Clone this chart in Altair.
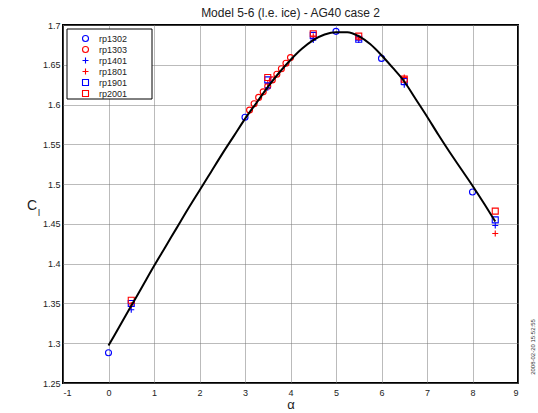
import altair as alt
import pandas as pd

# ---- data ----
series_names = ["rp1302", "rp1303", "rp1401", "rp1801", "rp1901", "rp2001"]
series_colors = ["#0000ff", "#ff0000", "#0000ff", "#ff0000", "#0000ff", "#ff0000"]
series_shapes = ["circle", "circle", "M-1,0H1M0,-1V1", "M-1,0H1M0,-1V1", "square", "square"]

rp1302_a = [0.0, 3.0, 5.0, 6.0, 8.0]
rp1302_c = [1.288, 1.584, 1.692, 1.658, 1.490]

rp1303_a = [3.1, 3.2, 3.3, 3.4, 3.5, 3.6, 3.7, 3.8, 3.9, 4.0]
rp1303_c = [1.593, 1.601, 1.609, 1.616, 1.623, 1.631, 1.638, 1.645, 1.652, 1.659]

rp1401_a = [0.5, 3.5, 4.5, 5.5, 6.5, 8.5]
rp1401_c = [1.342, 1.621, 1.681, 1.681, 1.625, 1.448]

rp1801_a = [0.5, 3.5, 4.5, 5.5, 6.5, 8.5]
rp1801_c = [1.348, 1.626, 1.686, 1.684, 1.634, 1.438]

rp1901_a = [0.5, 3.5, 4.5, 5.5, 6.5, 8.5]
rp1901_c = [1.350, 1.631, 1.687, 1.682, 1.629, 1.455]

rp2001_a = [0.5, 3.5, 4.5, 5.5, 6.5, 8.5]
rp2001_c = [1.354, 1.634, 1.689, 1.686, 1.632, 1.466]

fit_a = [0.0, 0.25, 0.5, 0.75, 1.0, 1.25, 1.5, 1.75, 2.0, 2.25, 2.5, 2.75, 3.0,
         3.25, 3.5, 3.75, 4.0, 4.25, 4.5, 4.75, 5.0, 5.25, 5.5, 5.75, 6.0,
         6.25, 6.5, 6.75, 7.0, 7.25, 7.5, 7.75, 8.0, 8.25, 8.5]
fit_c = [1.297, 1.322, 1.347, 1.372, 1.397, 1.421, 1.445, 1.469, 1.492, 1.515,
         1.538, 1.560, 1.582, 1.602, 1.622, 1.640, 1.656, 1.670, 1.681, 1.688,
         1.691, 1.691, 1.686, 1.676, 1.662, 1.646, 1.629, 1.607, 1.585, 1.562,
         1.540, 1.519, 1.498, 1.476, 1.453]

x_ticks = [-1, 0, 1, 2, 3, 4, 5, 6, 7, 8, 9]
y_ticks = [1.25, 1.3, 1.35, 1.4, 1.45, 1.5, 1.55, 1.6, 1.65, 1.7]

title_text = "Model 5-6 (l.e. ice) - AG40 case 2"
stamp_text = "2008-02-20 15:52:55"

# ---- tables ----
rows = []
for name, a, c in [("rp1302", rp1302_a, rp1302_c), ("rp1303", rp1303_a, rp1303_c),
                   ("rp1401", rp1401_a, rp1401_c), ("rp1801", rp1801_a, rp1801_c),
                   ("rp1901", rp1901_a, rp1901_c), ("rp2001", rp2001_a, rp2001_c)]:
    for ai, ci in zip(a, c):
        rows.append({"series": name, "alpha": ai, "cl": ci})
pts = pd.DataFrame(rows)
fit = pd.DataFrame({"alpha": fit_a, "cl": fit_c})

FONT = "Liberation Sans"

x_enc = alt.X("alpha:Q", scale=alt.Scale(domain=[-1, 9], nice=False, zero=False),
              axis=alt.Axis(values=x_ticks, tickCount=30, title="α",
                            labelExpr="datum.value + ''",
                            grid=True, ticks=False, domain=False, labelOverlap=False,
                            labelFontSize=9, labelPadding=5, titleFontSize=13,
                            titleFontWeight="normal", titlePadding=1,
                            labelFont=FONT, titleFont=FONT, labelColor="#222",
                            titleColor="#222"))
y_enc = alt.Y("cl:Q", scale=alt.Scale(domain=[1.25, 1.7], nice=False, zero=False),
              axis=alt.Axis(values=y_ticks, tickCount=30, title=None,
                            labelExpr="datum.value + ''",
                            grid=True, ticks=False, domain=False, labelOverlap=False,
                            labelFontSize=9, labelPadding=3, labelFont=FONT,
                            labelColor="#222"))

# legend frame (drawn beneath the legend, above the grid)
frame = alt.Chart(pd.DataFrame({"t": [""]})).mark_rect(
    fill="white", stroke="black", strokeWidth=1).encode(
    x=alt.value(4), x2=alt.value(89), y=alt.value(4), y2=alt.value(74))

points = alt.Chart(pts).mark_point(filled=False, size=36, strokeWidth=1.1, opacity=1).encode(
    x=x_enc,
    y=y_enc,
    color=alt.Color("series:N", scale=alt.Scale(domain=series_names, range=series_colors),
                    legend=alt.Legend(title=None, orient="top-left", offset=4, padding=5,
                                      labelFontSize=9, labelFont=FONT, labelColor="#222",
                                      rowPadding=0, symbolOffset=9, labelOffset=9,
                                      symbolSize=36, symbolStrokeWidth=1.1)),
    shape=alt.Shape("series:N", scale=alt.Scale(domain=series_names, range=series_shapes),
                    legend=alt.Legend(title=None)),
)

line = alt.Chart(fit).mark_line(color="black", strokeWidth=2, interpolate="monotone").encode(
    x="alpha:Q", y="cl:Q")

ann = pd.DataFrame({"t": [stamp_text]})
stamp = alt.Chart(ann).mark_text(angle=270, fontSize=6, font=FONT, color="#333",
                                  align="center", baseline="middle").encode(
    x=alt.value(470), y=alt.value(322), text="t:N")

clab = alt.Chart(pd.DataFrame({"t": ["C"]})).mark_text(
    fontSize=14, font=FONT, color="#222", align="center", baseline="middle").encode(
    x=alt.value(-31), y=alt.value(181), text="t:N")
lsub = alt.Chart(pd.DataFrame({"t": ["l"]})).mark_text(
    fontSize=9, font=FONT, color="#222", align="center", baseline="middle").encode(
    x=alt.value(-24), y=alt.value(188), text="t:N")

chart = alt.layer(frame, points, line, stamp, clab, lsub).properties(
    width=455, height=358,
    title=alt.TitleParams(title_text, fontSize=12, font=FONT, fontWeight="normal",
                          anchor="middle", offset=1, color="#222"),
    autosize=alt.AutoSizeParams(type="none"),
    padding={"left": 63, "top": 25, "right": 20, "bottom": 30},
).configure(background="white").configure_view(
    stroke="black", strokeWidth=2
).configure_axis(
    gridColor="#777", gridDash=[1, 1], gridWidth=1, gridOpacity=1
)

chart.save("out.html", embed_options={"renderer": "svg", "actions": False})
